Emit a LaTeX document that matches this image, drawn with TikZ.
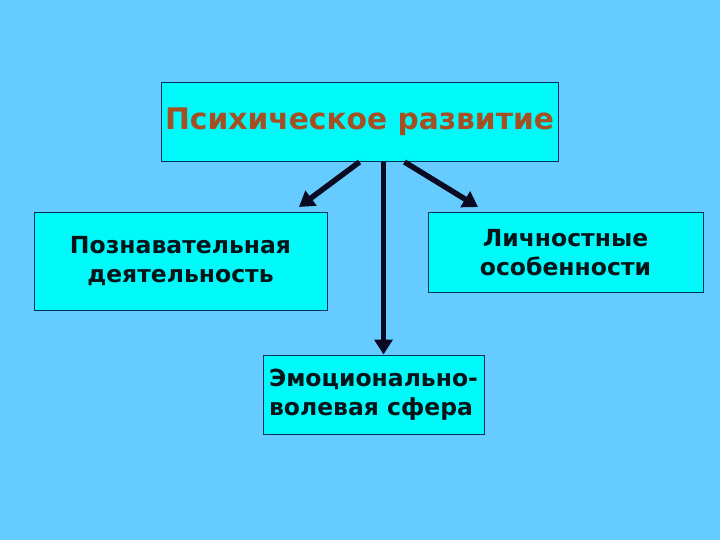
\documentclass[tikz,border=0pt]{standalone}
\usepackage{fontspec}
\setmainfont{DejaVu Sans}
\usetikzlibrary{arrows.meta, positioning, calc}

\definecolor{bgblue}{RGB}{102,204,255}
\definecolor{boxcyan}{RGB}{0,250,250}
\definecolor{boxline}{RGB}{0,50,90}
\definecolor{titlebrown}{RGB}{165,80,35}
\definecolor{linkdark}{RGB}{10,10,35}
\definecolor{textdark}{RGB}{5,20,25}

\begin{document}
\begin{tikzpicture}[x=1pt, y=-1pt, >={Triangle[length=15pt,width=18pt]},
    box/.style={draw=boxline, line width=1pt, fill=boxcyan, inner sep=0pt, text=textdark,
                font=\bfseries\fontsize{23.5}{29}\selectfont, align=center},
    link/.style={->, line width=5.5pt, draw=linkdark, fill=linkdark}]
    \fill [bgblue] (0,0) rectangle (720,540);
    \useasboundingbox (0,0) rectangle (720,540);

    \node [box, minimum width=397pt, minimum height=79pt, text=titlebrown,
           font=\bfseries\fontsize{29.7}{34}\selectfont] (devel) at (359.5,122) {Психическое развитие};
    \node [box, minimum width=293pt, minimum height=97pt] (cogn) at (180.5,261.5) {Познавательная\\деятельность};
    \node [box, minimum width=275pt, minimum height=79pt] (pers) at (565.5,252.5) {Личностные\\особенности};
    \node [box, minimum width=221pt, minimum height=79pt, align=left] (emot) at (373.5,394.5) {Эмоционально-\\волевая сфера};

    \coordinate (cogtip) at (299,207);
    \coordinate (perstip) at (478,207);

    \draw [link] (devel.south) -- (cogtip);
    \draw [link] ([xshift=24pt]devel.south) -- ([xshift=24pt]devel.south |- emot.north);
    \draw [link] ([xshift=45pt]devel.south) -- (perstip);
\end{tikzpicture}
\end{document}
